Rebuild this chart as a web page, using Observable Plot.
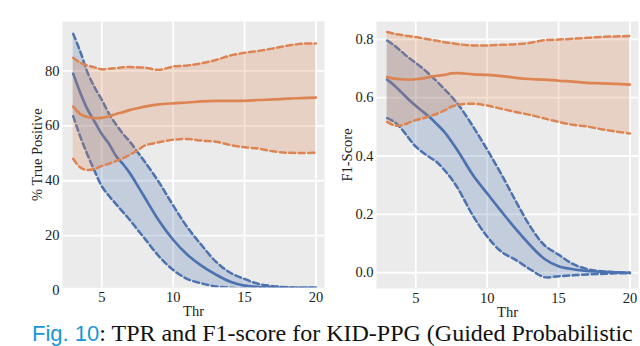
<!DOCTYPE html>
<html><head><meta charset="utf-8">
<script src="https://cdn.jsdelivr.net/npm/d3@7"></script>
<script src="https://cdn.jsdelivr.net/npm/@observablehq/plot@0.6"></script>
<style>
html,body{margin:0;padding:0;background:#fff;overflow:hidden;}
#wrap{position:relative;width:640px;height:346px;overflow:hidden;background:#fff;}
.panel{position:absolute;top:0;}
#wrap svg, #wrap svg text, #wrap svg g{font-family:'Liberation Serif','Times New Roman',serif !important;}
#caption{position:absolute;left:32px;top:320.5px;white-space:nowrap;font-family:'Liberation Serif','Times New Roman',serif;font-size:24px;line-height:24px;color:#111;}
#caption .fig{font-family:'Liberation Sans',Arial,Helvetica,sans-serif;font-size:22px;color:#1a96d8;}
</style></head><body>
<div id="wrap">
  <div id="left" class="panel" style="left:0px"></div>
  <div id="right" class="panel" style="left:314px"></div>
  <div id="caption"><span class="fig">Fig. 10</span>: TPR and F1-score for KID-PPG (Guided Probabilistic</div>
</div>
<script>
// Thresholds (x values)
const thr = [3,3.5,4,4.5,5,5.5,6,6.5,7,7.5,8,9,10,11,12,13,14,15,16,17,18,19,20];

// Left panel: % True Positive
const tprBlueMean = [79,72,66,61.5,57,53.5,49,46,42.5,38.3,34,25.5,18.5,13,9,5.8,3.2,1.8,1.3,1.1,1.0,1.0,1.0];
const tprBlueHi   = [93.5,87,79.5,74,69.5,64.5,60.5,57,54,50.5,47,39.5,31,23,16.5,10.5,6.5,4.2,2.4,1.6,1.2,1.0,1.0];
const tprBlueLo   = [63.5,56,49.5,43.5,38,34.5,31.5,28.5,25.5,22.2,19,12.5,7.5,4.2,2.6,1.5,1.0,0.8,0.8,0.8,0.8,0.8,0.8];
const tprOrMean   = [67,64.3,63.2,62.8,62.9,63.5,64.3,65,65.8,66.4,67,67.8,68.2,68.5,68.9,69.1,69.1,69.1,69.4,69.6,69.9,70.1,70.3];
const tprOrHi     = [84.8,83,82,81.3,80.6,80.8,81,81.3,81.4,81.3,81.2,80.4,81.6,82,82.8,84,85.6,86.6,87.3,88.2,89.2,89.9,90];
const tprOrLo     = [48,44.8,43.9,44.3,45.4,46.2,47.2,48.2,49.6,51,52.8,54,54.9,55.2,54.6,54.2,53,52.2,51.7,50.7,50.2,50.1,50.2];

// Right panel: F1-Score
const f1BlueMean = [0.662,0.642,0.618,0.594,0.572,0.552,0.532,0.508,0.483,0.45,0.414,0.335,0.272,0.21,0.15,0.095,0.048,0.022,0.012,0.006,0.003,0.001,0.0];
const f1BlueHi   = [0.796,0.779,0.758,0.737,0.719,0.7,0.678,0.655,0.63,0.604,0.575,0.502,0.422,0.337,0.246,0.16,0.095,0.062,0.03,0.013,0.005,0.002,0.0];
const f1BlueLo   = [0.53,0.517,0.493,0.462,0.432,0.412,0.395,0.378,0.352,0.322,0.285,0.196,0.124,0.072,0.044,0.012,-0.015,-0.012,-0.009,-0.006,-0.004,-0.002,-0.002];
const f1OrMean   = [0.671,0.665,0.663,0.662,0.663,0.666,0.671,0.675,0.678,0.683,0.684,0.68,0.678,0.674,0.668,0.664,0.662,0.658,0.655,0.651,0.649,0.647,0.645];
const f1OrHi     = [0.825,0.819,0.815,0.811,0.808,0.803,0.799,0.795,0.79,0.787,0.783,0.779,0.779,0.781,0.783,0.788,0.797,0.799,0.802,0.805,0.808,0.81,0.811];
const f1OrLo     = [0.517,0.505,0.505,0.514,0.523,0.529,0.537,0.545,0.556,0.569,0.576,0.579,0.573,0.562,0.551,0.541,0.529,0.517,0.507,0.501,0.492,0.484,0.477];

// Tick labels
const xTicks = [5,10,15,20];
const tprTicks = [0,20,40,60,80];
const f1Ticks = [0,0.2,0.4,0.6,0.8];

const BLUE = "#4C72B0", ORANGE = "#DD8452", BG = "#EBEBEB";
const SERIF = "'Liberation Serif','Times New Roman',serif";

function rows(mean, hi, lo){ return thr.map((t,i)=>({t, mean:mean[i], hi:hi[i], lo:lo[i]})); }

function makePanel({blue, orange, yDomain, yTicks, gridTicks, yLabel, labelOffset, width, marginRight, marginBottom, fmt}){
  const curve = "catmull-rom";
  const bandMarks = (d, color) => [
    Plot.areaY(d, {x:"t", y1:"lo", y2:"hi", fill: color, fillOpacity: 0.25, curve, clip: true}),
    Plot.lineY(d, {x:"t", y:"hi", stroke: color, strokeWidth: 2.5, strokeDasharray: "6,3.5", curve, clip: true}),
    Plot.lineY(d, {x:"t", y:"lo", stroke: color, strokeWidth: 2.5, strokeDasharray: "6,3.5", curve, clip: true}),
    Plot.lineY(d, {x:"t", y:"mean", stroke: color, strokeWidth: 2.7, curve, clip: true})
  ];
  return Plot.plot({
    width, height: 325,
    marginLeft: 62, marginRight, marginTop: 21, marginBottom,
    style: {fontFamily: SERIF, fontSize: "14.5px", color: "#222", background: "transparent"},
    x: {domain: [2.25, 20.6]},
    y: {domain: yDomain},
    marks: [
      Plot.frame({fill: BG, stroke: null}),
      Plot.gridX(xTicks, {stroke: "white", strokeOpacity: 1, strokeWidth: 1.8}),
      Plot.gridY(gridTicks, {stroke: "white", strokeOpacity: 1, strokeWidth: 1.8}),
      ...bandMarks(blue, BLUE),
      ...bandMarks(orange, ORANGE),
      Plot.axisX(xTicks, {tickSize: 0, tickPadding: 4, fontFamily: SERIF, fontSize: 14.5, label: "Thr", labelAnchor: "center", labelArrow: "none", labelOffset: 28}),
      Plot.axisY(yTicks, {tickSize: 0, tickPadding: 3, fontFamily: SERIF, fontSize: 14.5, tickFormat: fmt, label: yLabel, labelAnchor: "center", labelArrow: "none", labelOffset})
    ]
  });
}

document.getElementById("left").appendChild(makePanel({
  blue: rows(tprBlueMean, tprBlueHi, tprBlueLo),
  orange: rows(tprOrMean, tprOrHi, tprOrLo),
  yDomain: [1, 98], yTicks: tprTicks, gridTicks: [0,20,40,60,80],
  yLabel: "% True Positive", labelOffset: 31, width: 330, marginRight: 6, marginBottom: 37.7,
  fmt: d => String(d)
}));
document.getElementById("right").appendChild(makePanel({
  blue: rows(f1BlueMean, f1BlueHi, f1BlueLo),
  orange: rows(f1OrMean, f1OrHi, f1OrLo),
  yDomain: [-0.054, 0.861], yTicks: f1Ticks, gridTicks: f1Ticks,
  yLabel: "F1-Score", labelOffset: 35, width: 326, marginRight: 2, marginBottom: 37,
  fmt: d => d.toFixed(1)
}));
</script>
</body></html>
